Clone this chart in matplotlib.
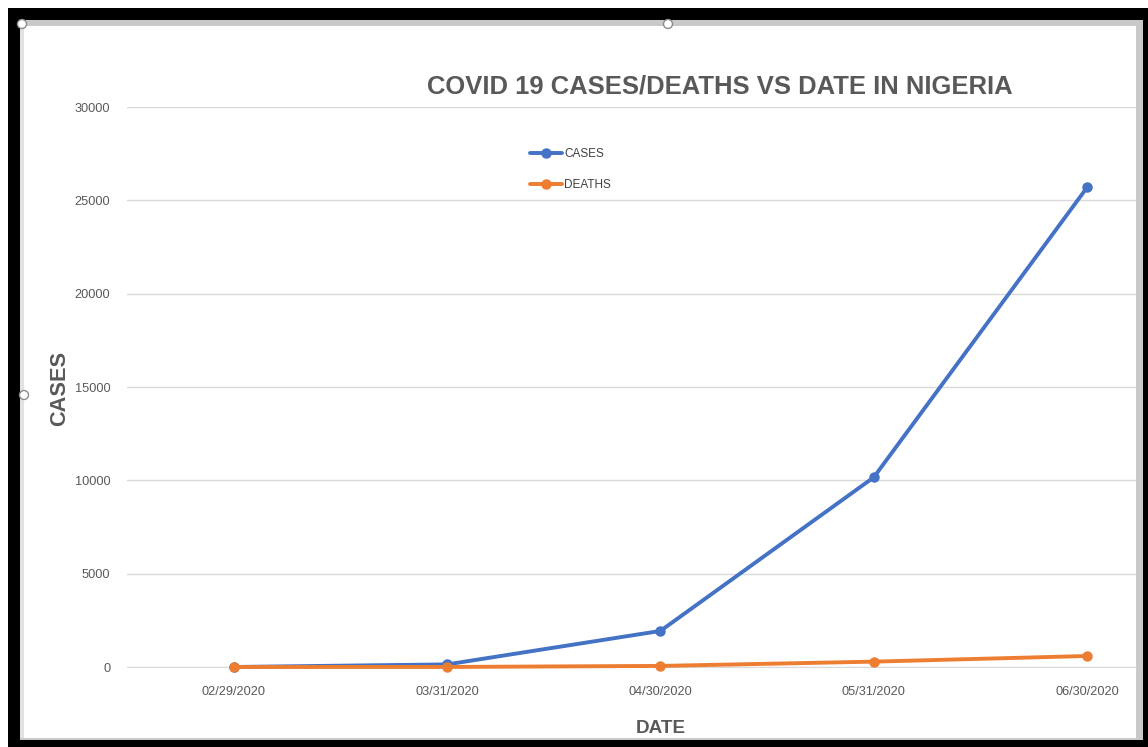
import matplotlib
matplotlib.use("Agg")
import matplotlib.pyplot as plt
from matplotlib.patches import Rectangle, Ellipse
from matplotlib import font_manager

# Nigeria COVID-19 cumulative totals at month end
dates = ["02/29/2020", "03/31/2020", "04/30/2020", "05/31/2020", "06/30/2020"]
cases = [1, 139, 1932, 10162, 25694]
deaths = [0, 2, 58, 287, 590]
y_ticks = [0, 5000, 10000, 15000, 20000, 25000, 30000]

W, H = 1148, 747
fig = plt.figure(figsize=(W / 100, H / 100), dpi=100)


def fx(x):
    return x / W


def fy(y):
    return 1 - y / H


installed = {f.name for f in font_manager.fontManager.ttflist}
narrow = [n for n in ("Liberation Sans Narrow", "DejaVu Sans Condensed") if n in installed]
plt.rcParams["font.family"] = narrow + ["Liberation Sans", "DejaVu Sans"]

TEXT = "#595959"


def rect(x0, y0, x1, y1, color, z=-10):
    fig.patches.append(Rectangle((fx(x0), fy(y1)), (x1 - x0) / W, (y1 - y0) / H,
                                 transform=fig.transFigure, facecolor=color,
                                 edgecolor="none", zorder=z))


# window frame
rect(8, 8, W, H, "black")
rect(20, 20, 1143, 740, "#c9c9c9")
rect(24, 26, 1136, 738, "white")
rect(20, 26, 24, 738, "#e2e2e2")

# selection handles
for hx, hy in [(22, 24), (668, 24), (24, 395)]:
    fig.patches.append(Ellipse((fx(hx), fy(hy)), 9 / W, 9 / H, transform=fig.transFigure,
                               facecolor="white", edgecolor="#8c8c8c", lw=1, zorder=-5))

ax = fig.add_axes([fx(127), fy(667), (1136 - 127) / W, (667 - 107) / H])
ax.set_facecolor("none")
xs = list(range(len(dates)))
ax.plot(xs, cases, color="#4472C4", lw=2.8, marker="o", ms=6.5, label="CASES",
        clip_on=False, solid_capstyle="round", zorder=3)
ax.plot(xs, deaths, color="#ED7D31", lw=2.8, marker="o", ms=6.5, label="DEATHS",
        clip_on=False, solid_capstyle="round", zorder=4)

ax.set_xlim(-0.5, 4.229)
ax.set_ylim(0, 30000)
ax.set_yticks(y_ticks, [str(v) for v in y_ticks])
ax.set_xticks(xs, dates)
ax.set_axisbelow(True)
ax.grid(axis="y", color="#d9d9d9", lw=1)
for side in ("top", "right", "left"):
    ax.spines[side].set_visible(False)
ax.spines["bottom"].set_color("#d9d9d9")
ax.tick_params(length=0, labelcolor=TEXT, labelsize=9.2)
ax.tick_params(axis="y", pad=12)
ax.tick_params(axis="x", pad=14)

ax.legend(loc="upper left", bbox_to_anchor=(fx(530), fy(148)), bbox_transform=fig.transFigure,
          frameon=False, handlelength=2.75, handletextpad=0.15, labelspacing=1.65,
          borderpad=0, borderaxespad=0, fontsize=8.5, labelcolor="#404040")

title = fig.text(fx(720), fy(94), "COVID 19 CASES/DEATHS VS DATE IN NIGERIA", ha="center",
                 va="baseline", fontsize=20, fontweight="bold", color=TEXT)
ylab = fig.text(fx(60), fy(388), "CASES", rotation=90, ha="center", va="center",
                fontsize=16, fontweight="bold", color=TEXT)
xlab = fig.text(fx(661), fy(733), "DATE", ha="center", va="baseline",
                fontsize=16, fontweight="bold", color=TEXT)

# size the headings to their set widths
renderer = fig.canvas.get_renderer()
for t, target, use_h in [(title, 584, False), (ylab, 75, True), (xlab, 50, False)]:
    bb = t.get_window_extent(renderer)
    cur = bb.height if use_h else bb.width
    t.set_fontsize(t.get_fontsize() * target / cur)

fig.savefig("out.png", dpi=100)
